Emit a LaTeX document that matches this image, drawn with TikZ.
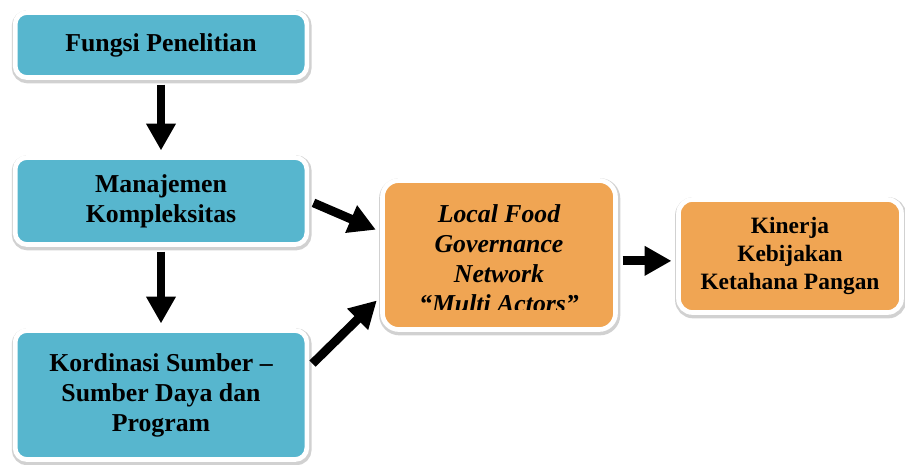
\documentclass[tikz,border=0pt]{standalone}
\usepackage{fontspec}
\setmainfont{Liberation Serif}
\usetikzlibrary{arrows.meta,shadows,positioning}
\definecolor{boxblue}{HTML}{57B6CE}
\definecolor{boxorange}{HTML}{F0A553}

\begin{document}
\begin{tikzpicture}[x=0.03cm, y=-0.03cm,
    box/.style={rectangle, rounded corners=10pt, draw=white, line width=4pt,
      drop shadow={shadow xshift=0.6pt, shadow yshift=-1.5pt, draw=black,
        line width=7pt, fill=black, opacity=0.18},
      align=center, font=\fontsize{22}{25.6}\selectfont\bfseries},
    bluebox/.style={box, fill=boxblue, minimum width=8.75cm},
    orangebox/.style={box, fill=boxorange},
    arrow/.style={line width=7.5pt, -{Triangle[width=24pt, length=23pt]},
      shorten <=4pt, shorten >=4pt}]
  \useasboundingbox (0,0) rectangle (905,464);
  % Nodes
  \node[bluebox, minimum height=1.95cm] (fungsi) at (161,45) {Fungsi Penelitian};
  \node[bluebox, minimum height=2.61cm] (manajemen) at (161,201) {Manajemen\\Kompleksitas};
  \node[bluebox, minimum height=3.87cm] (kordinasi) at (161,395) {Kordinasi Sumber –\\Sumber Daya dan\\Program};
  \node[orangebox, rounded corners=14pt, minimum width=6.99cm, minimum height=4.47cm] (local) at (499,255) {};
  \begin{scope}
    \clip (local.north west) rectangle (615,309);
    \node[align=center, font=\fontsize{22}{25.6}\selectfont\bfseries\itshape] (localtext) at (499,259) {Local Food\\Governance\\Network\\“Multi Actors”};
  \end{scope}
  \node[orangebox, rounded corners=12pt, minimum width=6.69cm, minimum height=3.39cm,
    font=\fontsize{20}{24}\selectfont\bfseries] (kinerja) at (790,256) {Kinerja\\Kebijakan\\Ketahana Pangan};
  % Edges
  \draw[arrow] (fungsi) -- (manajemen);
  \draw[arrow] (manajemen) -- (kordinasi);
  \draw[arrow] (manajemen.east) -- ([yshift=20pt]local.west);
  \draw[arrow] ([yshift=24pt]kordinasi.east) -- ([yshift=-36pt]local.west);
  \draw[arrow] ([yshift=-5pt]local.east) -- ([yshift=-5pt]local.east -| kinerja.west);
\end{tikzpicture}
\end{document}
